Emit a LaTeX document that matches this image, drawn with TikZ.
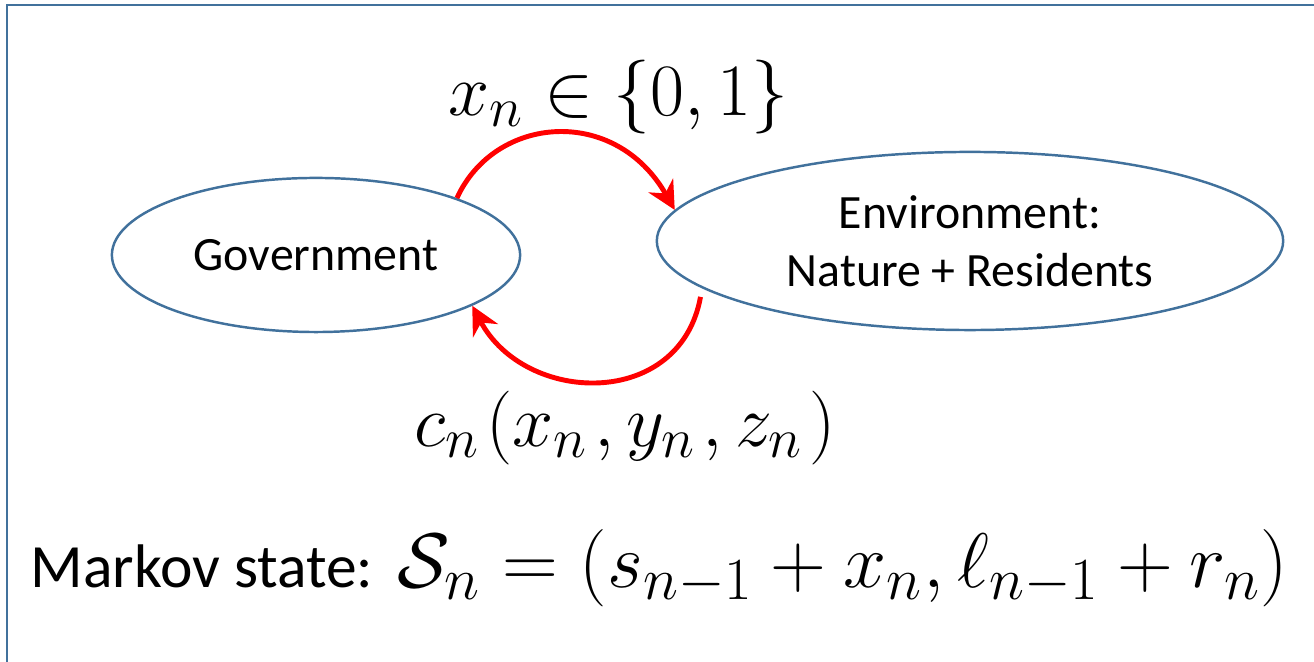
\documentclass[tikz,border=0pt]{standalone}
\usepackage{fix-cm}
\usepackage[no-math]{fontspec}
\usepackage{amsmath}
\usetikzlibrary{shapes.geometric, arrows.meta}
\newfontfamily\calib{Carlito}
\definecolor{mdpblue}{HTML}{41719C}
\definecolor{mdpred}{HTML}{FF0000}
\DeclareMathSizes{21}{21}{16}{12}
\DeclareMathSizes{22}{22}{17}{13}

\begin{document}
\begin{tikzpicture}[
    x=0.01cm, y=-0.01cm,
    state/.style={ellipse, draw=mdpblue, line width=0.7pt, align=center, inner sep=0pt, font=\calib\fontsize{13.6}{16.6}\selectfont},
    flow/.style={-{Stealth[length=8pt, width=8pt]}, draw=mdpred, line width=1.4pt},
    lbl/.style={inner sep=0pt, font=\fontsize{21}{25}\selectfont}
]
\useasboundingbox (0,0) rectangle (1314,662);
\draw[mdpblue, line width=0.8pt] (7,700) -- (7,5) -- (1400,5);
\node[state, minimum width=4.08cm, minimum height=1.54cm] (gov) at (316,255) {Government};
\node[state, minimum width=6.26cm, minimum height=1.78cm] (env) at (970,241) {Environment:\\Nature + Residents};
\draw[flow] (gov.22) .. controls (495,115) and (615,105) .. (env.174);
\draw[flow, shorten <=2.5pt] (env.190) .. controls (680,410) and (525,405) .. (gov.342);
\node[lbl] (act) at (618,97) {$x_n \in \{0,1\}$};
\node[lbl] (cost) at (625,428) {$c_n\mskip1.5mu(x_n\mskip1.5mu,y_n\mskip1.5mu,z_n\mskip1.5mu)$};
\node[anchor=base west, inner sep=0pt] (mkv) at (30,588) {{\calib\fontsize{17.5}{21}\selectfont Markov state:}\hspace{7pt}\fontsize{22}{26}\selectfont$\mathcal{S}_n=(s_{n-1}+x_n,\ell_{n-1}+r_n)$};
\end{tikzpicture}
\end{document}
